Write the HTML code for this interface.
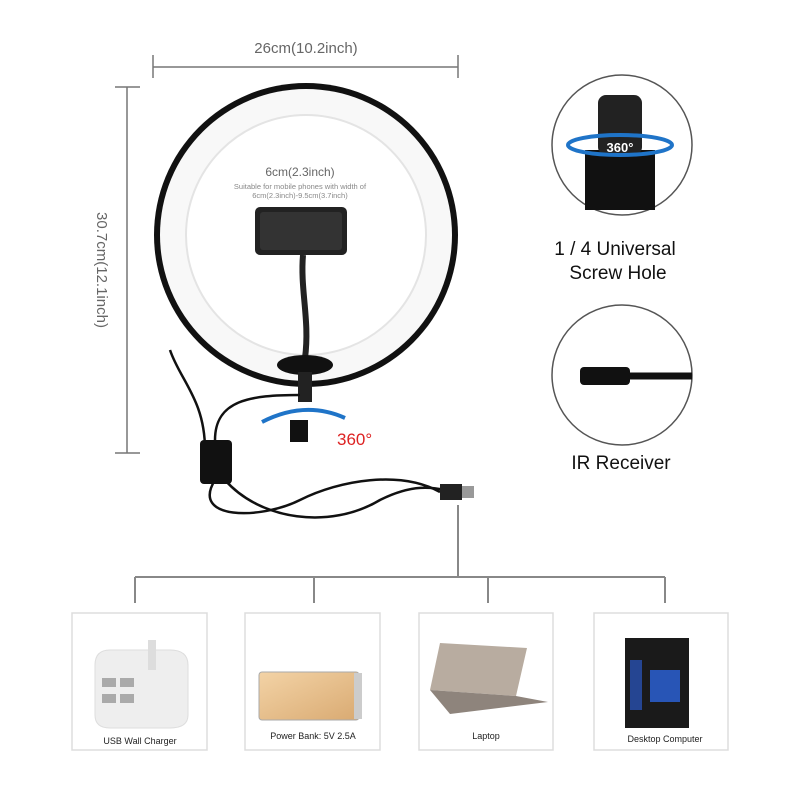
<!DOCTYPE html>
<html><head><meta charset="utf-8"><style>
body{margin:0;background:#fff;width:800px;height:800px;overflow:hidden}
svg{display:block}
text{font-family:"Liberation Sans",sans-serif}
</style></head><body>
<svg width="800" height="800" viewBox="0 0 800 800">
<defs>
<radialGradient id="ring" cx="50%" cy="50%" r="50%">
<stop offset="0.82" stop-color="#fff"/><stop offset="0.9" stop-color="#f4f4f4"/><stop offset="1" stop-color="#ddd"/>
</radialGradient>
<linearGradient id="gold" x1="0" y1="0" x2="1" y2="1"><stop offset="0" stop-color="#f3d3a6"/><stop offset="1" stop-color="#d9aa72"/></linearGradient>
</defs>
<!-- dimension lines -->
<g stroke="#777" stroke-width="1.5" fill="none">
<line x1="153" y1="55" x2="153" y2="78"/><line x1="458" y1="55" x2="458" y2="78"/><line x1="153" y1="67" x2="458" y2="67"/>
<line x1="115" y1="87" x2="140" y2="87"/><line x1="115" y1="453" x2="140" y2="453"/><line x1="127" y1="87" x2="127" y2="453"/>
</g>
<text x="306" y="53" font-size="15" fill="#666" text-anchor="middle">26cm(10.2inch)</text>
<text transform="translate(97,270) rotate(90)" font-size="15" fill="#666" text-anchor="middle">30.7cm(12.1inch)</text>
<!-- ring -->
<circle cx="306" cy="235" r="152" fill="#111"/>
<circle cx="306" cy="235" r="146" fill="#f8f8f8"/>
<circle cx="306" cy="235" r="120" fill="#fff" stroke="#e4e4e4" stroke-width="2"/>
<text x="300" y="176" font-size="12" fill="#666" text-anchor="middle">6cm(2.3inch)</text>
<text x="300" y="189" font-size="7.5" fill="#888" text-anchor="middle">Suitable for mobile phones with width of</text>
<text x="300" y="198" font-size="7.5" fill="#888" text-anchor="middle">6cm(2.3inch)-9.5cm(3.7inch)</text>
<rect x="255" y="207" width="92" height="48" rx="5" fill="#222"/>
<rect x="260" y="212" width="82" height="38" rx="3" fill="#333"/>
<path d="M303 255 C300 290 310 320 305 358" stroke="#222" stroke-width="6" fill="none"/>
<ellipse cx="305" cy="365" rx="28" ry="10" fill="#111"/>
<rect x="298" y="372" width="14" height="30" fill="#222"/>
<rect x="290" y="420" width="18" height="22" fill="#111"/>
<path d="M262 422 Q305 400 345 418" stroke="#1f74c8" stroke-width="4" fill="none"/>
<text x="337" y="445" font-size="17" fill="#d22" >360°</text>
<!-- cables -->
<g stroke="#111" stroke-width="2.5" fill="none">
<path d="M170 350 C180 380 205 400 205 450"/>
<path d="M300 395 C250 395 215 400 215 440"/>
<path d="M225 480 C260 520 330 530 380 500 C420 480 440 490 455 492"/>
<path d="M215 480 C190 520 260 520 300 500 C340 480 400 470 440 492"/>
</g>
<rect x="200" y="440" width="32" height="44" rx="4" fill="#111"/>
<rect x="440" y="484" width="22" height="16" fill="#222"/><rect x="462" y="486" width="12" height="12" fill="#999"/>
<!-- right circles -->
<circle cx="622" cy="145" r="70" fill="#fff" stroke="#555" stroke-width="1.5"/>
<rect x="585" y="150" width="70" height="60" fill="#111"/>
<rect x="598" y="95" width="44" height="60" rx="8" fill="#222"/>
<ellipse cx="620" cy="145" rx="52" ry="10" fill="none" stroke="#1f74c8" stroke-width="4"/>
<text x="620" y="152" font-size="13" fill="#fff" font-weight="bold" text-anchor="middle">360°</text>
<text x="615" y="255" font-size="19" fill="#111" text-anchor="middle">1 / 4 Universal</text>
<text x="618" y="279" font-size="19" fill="#111" text-anchor="middle">Screw Hole</text>
<circle cx="622" cy="375" r="70" fill="#fff" stroke="#555" stroke-width="1.5"/>
<rect x="580" y="367" width="50" height="18" rx="4" fill="#111"/>
<path d="M630 376 L692 376" stroke="#111" stroke-width="7"/>
<text x="621" y="469" font-size="19" fill="#111" text-anchor="middle">IR Receiver</text>
<!-- connectors -->
<g stroke="#888" stroke-width="2" fill="none">
<line x1="458" y1="505" x2="458" y2="577"/>
<line x1="135" y1="577" x2="665" y2="577"/>
<line x1="135" y1="577" x2="135" y2="603"/><line x1="314" y1="577" x2="314" y2="603"/>
<line x1="488" y1="577" x2="488" y2="603"/><line x1="665" y1="577" x2="665" y2="603"/>
</g>
<g fill="#fff" stroke="#ddd" stroke-width="1.5">
<rect x="72" y="613" width="135" height="137"/><rect x="245" y="613" width="135" height="137"/>
<rect x="419" y="613" width="134" height="137"/><rect x="594" y="613" width="134" height="137"/>
</g>
<!-- products -->
<path d="M95 665 Q95 650 110 650 L170 650 Q188 650 188 665 L188 715 Q188 728 170 728 L110 728 Q95 728 95 715Z" fill="#eee" stroke="#ddd"/>
<rect x="148" y="640" width="8" height="30" fill="#ddd"/>
<g fill="#aaa"><rect x="102" y="678" width="14" height="9"/><rect x="120" y="678" width="14" height="9"/><rect x="102" y="694" width="14" height="9"/><rect x="120" y="694" width="14" height="9"/></g>
<rect x="259" y="672" width="100" height="48" rx="3" fill="url(#gold)" stroke="#aaa"/>
<rect x="354" y="673" width="8" height="46" fill="#ccc"/>
<path d="M440 643 L527 648 L516 696 L430 690Z" fill="#b8aca0"/>
<path d="M430 690 L516 696 L548 702 L450 714Z" fill="#8e847c"/>
<rect x="625" y="638" width="64" height="90" fill="#1a1a1a"/>
<rect x="650" y="670" width="30" height="32" fill="#2a5cc8" opacity="0.9"/>
<rect x="630" y="660" width="12" height="50" fill="#2850b0" opacity="0.8"/>
<g font-size="9" fill="#222" text-anchor="middle">
<text x="140" y="744">USB Wall Charger</text><text x="313" y="739">Power Bank: 5V 2.5A</text>
<text x="486" y="739">Laptop</text><text x="665" y="742">Desktop Computer</text>
</g>
</svg>
</body></html>
